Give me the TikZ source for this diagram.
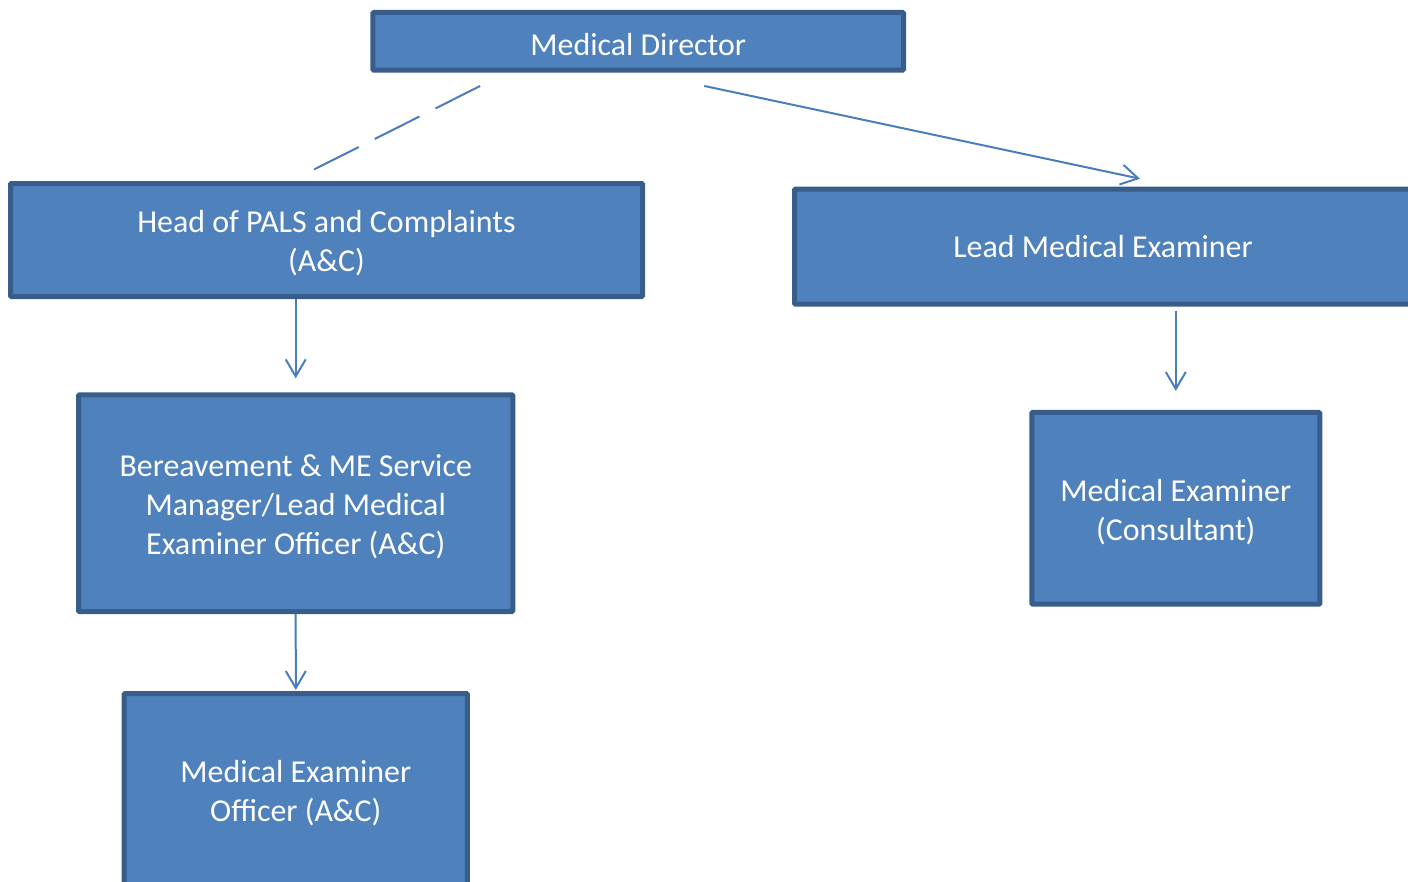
\documentclass[tikz,border=0pt]{standalone}
\usepackage{fontspec}
\setmainfont{Carlito}
\usetikzlibrary{arrows.meta,calc}

\definecolor{boxfill}{HTML}{4F81BD}
\definecolor{boxline}{HTML}{385D8A}
\definecolor{linkblue}{HTML}{4A7EBB}

\newcommand{\liftline}{\rule{0pt}{29pt}}

\begin{document}
\begin{tikzpicture}
      [x = 1pt, y = -1pt,
      post/.style= {
         draw = boxline,
         fill = boxfill,
         line width = 5pt,
         rounded corners = 1pt,
         text = white,
         align = center,
         inner sep = 0pt,
         font = \fontsize{31.9}{38.9}\selectfont
      },
      link/.style= {
         draw = linkblue,
         line width = 2pt,
         -{Straight Barb[length = 17pt, width = 20pt]}
      },
      dashlink/.style= {
         draw = linkblue,
         line width = 2pt,
         dash pattern = on 50pt off 18pt
      }]

      \useasboundingbox (0, 0) rectangle (1408, 881);
      \clip (0, 0) rectangle (1408, 881);

      % posts
      \node[post, minimum width = 530.7pt, minimum height = 57.7pt] (director) at (638.2, 41.3) {\liftline Medical Director};
      \node[post, minimum width = 632pt, minimum height = 113pt] (pals) at (326.5, 240) {\liftline Head of PALS and Complaints\\(A\&C)};
      \node[post, minimum width = 617pt, minimum height = 115pt] (lead) at (1103, 246.7) {Lead Medical Examiner};
      \node[post, minimum width = 434.3pt, minimum height = 216.7pt] (bereave) at (295.7, 503.2) {\liftline Bereavement \& ME Service\\Manager/Lead Medical\\Examiner Officer (A\&C)};
      \node[post, minimum width = 288pt, minimum height = 191.7pt] (consult) at (1175.8, 508.3) {\liftline Medical Examiner\\(Consultant)};
      \node[post, minimum width = 343.3pt, minimum height = 193pt] (officer) at (295.8, 790) {\liftline Medical Examiner\\Officer (A\&C)};

      % reporting lines
      \draw[dashlink] ($(director.south) + (-158, 13.3)$) -- ($(pals.north) + (-13.5, -11)$);
      \draw[link] ($(director.south) + (66, 13.3)$) -- ($(lead.north) + (37, -8)$);
      \draw[link] (bereave.north |- pals.south) -- ($(bereave.north) + (0, -14)$);
      \draw[link] ($(consult.north |- lead.south) + (0, 4)$) -- ($(consult.north) + (0, -19)$);
      \draw[link] (bereave.south) -- ($(officer.north) + (0, -1)$);

\end{tikzpicture}
\end{document}
